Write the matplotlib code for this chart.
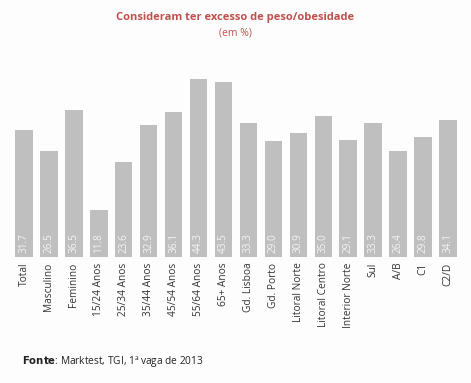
import numpy as np
import matplotlib.pyplot as plt

categories = ['Total', 'Masculino', 'Feminino', '15/24 Anos', '25/34 Anos', '35/44 Anos',
              '45/54 Anos', '55/64 Anos', '65+ Anos', 'Gd. Lisboa', 'Gd. Porto',
              'Litoral Norte', 'Litoral Centro', 'Interior Norte', 'Sul', 'A/B', 'C1', 'C2/D']
values = [31.7, 26.5, 36.5, 11.8, 23.6, 32.9, 36.1, 44.3, 43.5, 33.3, 29.0,
          30.9, 35.0, 29.1, 33.3, 26.4, 29.8, 34.1]

plt.rcParams['font.family'] = ['Open Sans', 'DejaVu Sans']

fig = plt.figure(figsize=(4.71, 3.83), dpi=100)
fig.patch.set_facecolor('#fdfdfd')
ax = fig.add_axes([0.0245, 0.329, 0.953, 0.540])
ax.set_facecolor('#fdfdfd')

x = np.arange(len(categories))
ax.bar(x, values, width=0.7, color='#bfbfbf')
for xi, v in zip(x, values):
    ax.text(xi, 1.0, f'{v:.1f}', rotation=90, ha='center', va='bottom',
            fontsize=7.2, color='#f4f4f4')

ax.set_xlim(-0.5, len(categories) - 0.5)
ax.set_ylim(0, 51.5)
ax.set_xticks(x)
ax.set_xticklabels(categories, rotation=90, fontsize=7.3, color='#333333')
ax.tick_params(axis='x', length=0, pad=4)
ax.set_yticks([])
for s in ax.spines.values():
    s.set_visible(False)

fig.text(0.5, 0.955, 'Consideram ter excesso de peso/obesidade', ha='center', va='center',
         fontsize=8, fontweight='bold', color='#c0504d')
fig.text(0.5, 0.915, '(em %)', ha='center', va='center', fontsize=7.5, color='#c0504d')
fig.text(0.047, 0.055, r'$\bf{Fonte}$: Marktest, TGI, 1ª vaga de 2013', ha='left', va='center',
         fontsize=7.3, color='#222222')

plt.savefig('out.png', dpi=100, facecolor=fig.get_facecolor())
